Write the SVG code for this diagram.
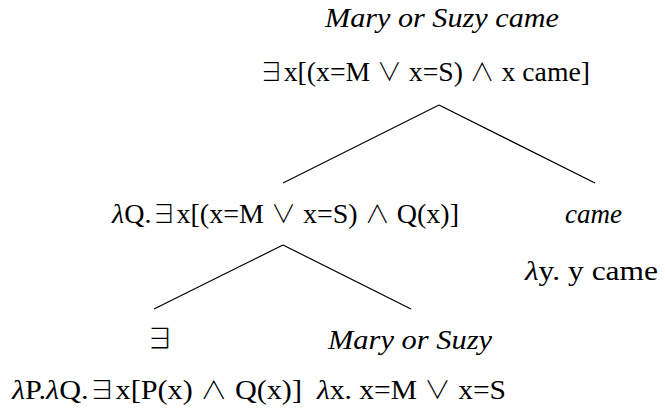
<svg xmlns="http://www.w3.org/2000/svg" width="665" height="417" viewBox="0 0 665 417">
<style>
text{font-family:"Liberation Serif","DejaVu Serif",serif;font-size:28px;fill:#000}
.it{font-style:italic}
.sym{font-family:"Noto Sans CJK JP","DejaVu Sans",sans-serif;font-weight:300;font-size:25px}
.edge{stroke:#000;stroke-width:1.2;fill:none}
</style>
<rect width="665" height="417" fill="#fff"/>
<g id="connectors">
<line class="edge" x1="439" y1="105" x2="283" y2="183"/>
<line class="edge" x1="439" y1="105" x2="595" y2="183"/>
<line class="edge" x1="283" y1="245" x2="154" y2="309"/>
<line class="edge" x1="283" y1="245" x2="411" y2="309"/>
</g>
<g id="root">
<text class="it" x="325" y="27" textLength="234" lengthAdjust="spacingAndGlyphs">Mary or Suzy came</text>
<text x="259" y="81" textLength="331" lengthAdjust="spacingAndGlyphs"><tspan class="sym">∃</tspan>x[(x=M <tspan class="sym">∨</tspan> x=S) <tspan class="sym">∧</tspan> x came]</text>
</g>
<g id="det-np">
<text x="112" y="223" textLength="347" lengthAdjust="spacingAndGlyphs"><tspan class="it">λ</tspan>Q.<tspan class="sym">∃</tspan>x[(x=M <tspan class="sym">∨</tspan> x=S) <tspan class="sym">∧</tspan> Q(x)]</text>
</g>
<g id="vp">
<text class="it" x="565" y="223" textLength="57" lengthAdjust="spacingAndGlyphs">came</text>
<text x="525" y="280" textLength="133" lengthAdjust="spacingAndGlyphs"><tspan class="it">λ</tspan>y. y came</text>
</g>
<g id="det">
<text x="146" y="349"><tspan class="sym" style="font-size:28px">∃</tspan></text>
<text x="12" y="399" textLength="290" lengthAdjust="spacingAndGlyphs"><tspan class="it">λ</tspan>P.<tspan class="it">λ</tspan>Q.<tspan class="sym">∃</tspan>x[P(x) <tspan class="sym">∧</tspan> Q(x)]</text>
</g>
<g id="np">
<text class="it" x="328" y="349" textLength="164" lengthAdjust="spacingAndGlyphs">Mary or Suzy</text>
<text x="317" y="399" textLength="189" lengthAdjust="spacingAndGlyphs"><tspan class="it">λ</tspan>x. x=M <tspan class="sym">∨</tspan> x=S</text>
</g>
</svg>
